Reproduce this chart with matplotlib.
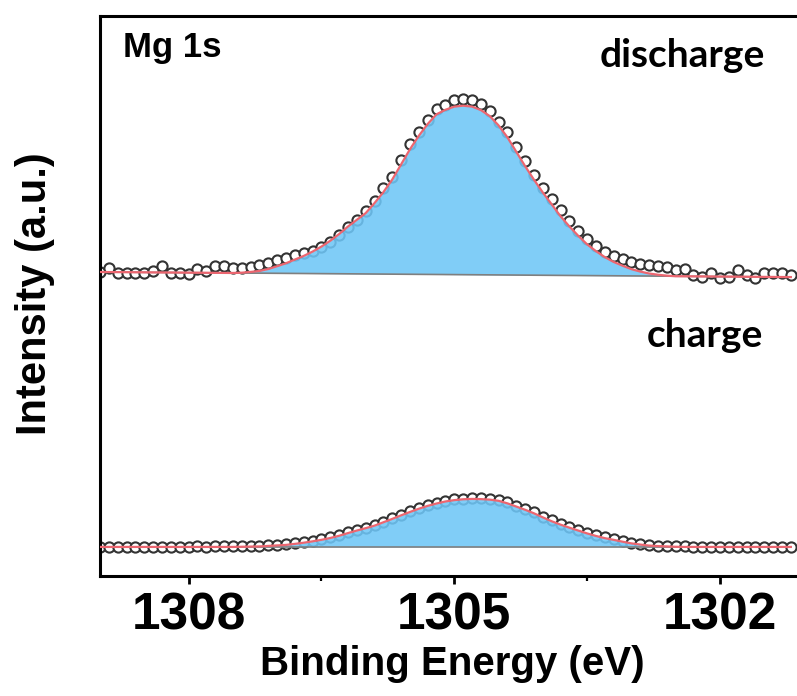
import numpy as np
import matplotlib.pyplot as plt

# Mg 1s XPS spectra, binding energy grid (eV), 0.1 eV step
energy = np.linspace(1309.0, 1301.2, 79)

# discharge: measured points and fitted Mg 1s component
discharge_data = [
    0.0, 0.024, -0.006, -0.006, -0.006, -0.006, 0.006, 0.036, -0.006, -0.006,
    -0.012, 0.018, 0.006, 0.036, 0.036, 0.024, 0.024, 0.03, 0.042, 0.053,
    0.071, 0.083, 0.10, 0.112, 0.124, 0.15, 0.178, 0.22, 0.266, 0.31,
    0.36, 0.42, 0.50, 0.56, 0.665, 0.755, 0.83, 0.90, 0.965, 0.99,
    1.015, 1.025, 1.02, 0.995, 0.955, 0.885, 0.83, 0.74, 0.655, 0.575,
    0.50, 0.43, 0.365, 0.30, 0.245, 0.195, 0.155, 0.12, 0.095, 0.075,
    0.06, 0.05, 0.04, 0.035, 0.03, 0.012, 0.018, -0.018, -0.03, -0.006,
    -0.035, -0.03, 0.012, -0.018, -0.035, -0.006, -0.006, -0.006, -0.018,
]
discharge_fit = [
    0, 0, 0, 0, 0, 0, 0, 0, 0, 0, 0, 0, 0, 0, 0, 0,
    0.002, 0.007, 0.013, 0.025, 0.042, 0.06, 0.082, 0.104, 0.13, 0.16,
    0.195, 0.235, 0.28, 0.32, 0.36, 0.42, 0.485, 0.56, 0.65, 0.74,
    0.82, 0.89, 0.948, 0.975, 0.994, 1.0, 0.995, 0.975, 0.94, 0.885,
    0.815, 0.73, 0.645, 0.565, 0.49, 0.42, 0.35, 0.29, 0.235, 0.185,
    0.145, 0.11, 0.082, 0.06, 0.04, 0.026, 0.015, 0.008, 0.003,
    0, 0, 0, 0, 0, 0, 0, 0, 0, 0, 0, 0, 0, 0,
]
discharge_bg = [0.0, -0.03]  # linear background, high-BE end -> low-BE end

# charge
charge_data = [
    0.002, 0.001, 0.002, 0.001, 0.002, 0.001, 0.002, 0.002, 0.001, 0.002,
    0.002, 0.003, 0.002, 0.003, 0.004, 0.004, 0.005, 0.006, 0.008, 0.011,
    0.014, 0.018, 0.023, 0.030, 0.038, 0.047, 0.058, 0.071, 0.086, 0.101,
    0.115, 0.131, 0.150, 0.170, 0.191, 0.211, 0.230, 0.247, 0.261, 0.273,
    0.281, 0.286, 0.288, 0.287, 0.284, 0.277, 0.263, 0.244, 0.225, 0.204,
    0.180, 0.157, 0.137, 0.118, 0.101, 0.084, 0.069, 0.056, 0.046, 0.035,
    0.025, 0.018, 0.012, 0.008, 0.006, 0.004, 0.003, 0.002, 0.002, 0.001,
    0.002, 0.001, 0.002, 0.001, 0.002, 0.001, 0.002, 0.001, 0.002,
]
charge_fit = [
    0, 0, 0, 0, 0, 0, 0, 0, 0, 0, 0, 0, 0, 0, 0, 0,
    0.001, 0.002, 0.003, 0.006, 0.009, 0.012, 0.018, 0.025, 0.033, 0.042,
    0.053, 0.066, 0.082, 0.097, 0.111, 0.126, 0.146, 0.166, 0.187, 0.207,
    0.226, 0.243, 0.257, 0.269, 0.277, 0.282, 0.284, 0.283, 0.28, 0.273,
    0.258, 0.239, 0.22, 0.199, 0.175, 0.152, 0.132, 0.114, 0.097, 0.08,
    0.065, 0.052, 0.042, 0.031, 0.021, 0.014, 0.008, 0.005, 0.003, 0.001,
    0, 0, 0, 0, 0, 0, 0, 0, 0, 0, 0, 0, 0,
]
charge_bg = [0.0, 0.0]

offsets = {"discharge": 1.627, "charge": 0.0}
xticks = [1308, 1305, 1302]

fill_color = "#6ec6f7"
fit_color = "#ec6670"

fig = plt.figure(figsize=(7.97, 6.96), dpi=100)
ax = fig.add_axes([100 / 797, 120 / 696, 697 / 797, 560 / 696])


def draw_spectrum(data, fit, bg_ends, offset):
    bg = offset + np.interp(energy, [energy[-1], energy[0]], bg_ends[::-1])
    total = bg + np.array(fit)
    ax.scatter(energy, offset + np.array(data), s=54, facecolor="white",
               edgecolor="#333333", linewidth=1.5, zorder=2)
    ax.fill_between(energy, bg, total, color=fill_color, alpha=0.88,
                    linewidth=0, zorder=3)
    ax.plot(energy, bg, color="#7f7f7f", lw=1.2, zorder=3)
    ax.plot(energy, total, color=fit_color, lw=1.6, zorder=4)


draw_spectrum(discharge_data, discharge_fit, discharge_bg, offsets["discharge"])
draw_spectrum(charge_data, charge_fit, charge_bg, offsets["charge"])

ax.set_xlim(1309.0, 1301.13)
ax.set_ylim(-0.172, 3.142)
ax.set_xticks(xticks)
ax.set_xticks([1306.5, 1303.5], minor=True)
ax.set_yticks([])
ax.tick_params(axis="x", which="major", length=6, width=2, pad=5,
               labelsize=37)
ax.tick_params(axis="x", which="minor", length=3.5, width=1.6)
for lbl in ax.get_xticklabels():
    lbl.set_fontfamily("Liberation Sans")
    lbl.set_fontweight("bold")
for side in ["left", "top", "bottom"]:
    ax.spines[side].set_linewidth(2.2)
ax.spines["right"].set_visible(False)

ax.set_xlabel("Binding Energy (eV)", fontsize=29, fontweight="bold",
              family="Liberation Sans", va="center")
ax.xaxis.set_label_coords(0.505, -0.158)
ax.set_ylabel("Intensity (a.u.)", fontsize=30, fontweight="bold",
              family="Liberation Sans", va="center")
ax.yaxis.set_label_coords(-0.093, 0.505)

ax.text(0.033, 0.943, "Mg 1s", transform=ax.transAxes, fontsize=25,
        fontweight="bold", family="Liberation Sans", va="center", ha="left")
ax.text(0.954, 0.93, "discharge", transform=ax.transAxes, fontsize=28,
        fontweight="bold", family="Lato", va="center", ha="right")
ax.text(0.951, 0.43, "charge", transform=ax.transAxes, fontsize=28,
        fontweight="bold", family="Lato", va="center", ha="right")

fig.savefig("out.png", dpi=100)
